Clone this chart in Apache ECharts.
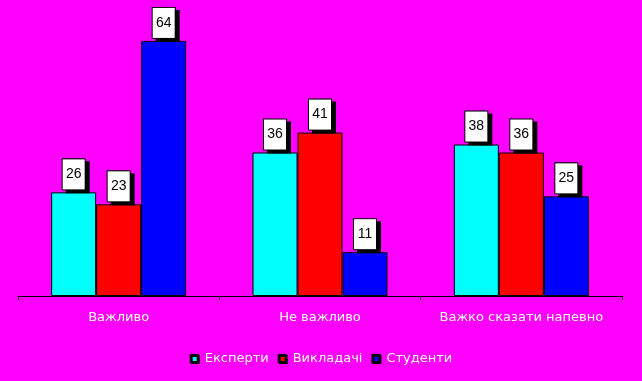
<!DOCTYPE html>
<html><head><meta charset="utf-8">
<script src="https://cdn.jsdelivr.net/npm/echarts@6/dist/echarts.min.js"></script>
<style>html,body{margin:0;padding:0;background:#FF00FF}#c{width:642px;height:381px}</style>
</head><body><div id="c"></div>
<script>
const categories = ["Важливо", "Не важливо", "Важко сказати напевно"];
const seriesNames = ["Експерти", "Викладачі", "Студенти"];
const experts = [26, 36, 38];
const teachers = [23, 41, 36];
const students = [64, 11, 25];
const colors = ["#00FFFF", "#FF0000", "#0000FF"];

const chart = echarts.init(document.getElementById('c'), null, {renderer: 'canvas'});
const txtFont = 'DejaVu Sans';
const labelStyle = {
  show: true, position: 'top', distance: 3,
  color: '#000', fontFamily: 'Liberation Sans, Arial', fontSize: 14,
  backgroundColor: '#fff', borderColor: '#000', borderWidth: 1,
  width: 22, height: 30, lineHeight: 30, align: 'center', padding: 0,
  shadowColor: '#000', shadowOffsetX: 4, shadowOffsetY: 3, shadowBlur: 0
};
const data = [experts, teachers, students];
chart.setOption({
  backgroundColor: '#FF00FF',
  animation: false,
  grid: {left: 18, right: 20, top: 17, bottom: 85},
  legend: {
    top: 347, left: 'center', itemWidth: 7, itemHeight: 7, itemGap: 9,
    icon: 'rect',
    textStyle: {color: '#fff', fontFamily: txtFont, fontSize: 13, padding: [0, 0, 0, 2],
      textShadowColor: '#000', textShadowOffsetX: 1, textShadowOffsetY: 1, textShadowBlur: 0},
    data: seriesNames.map((n, i) => ({name: n, itemStyle: {color: colors[i], shadowColor: '#000', shadowOffsetX: 1, shadowOffsetY: 1, shadowBlur: 0}}))
  },
  xAxis: {
    type: 'category', data: categories,
    axisLine: {lineStyle: {color: '#000', width: 1}},
    axisTick: {show: true, interval: 0, length: 4, lineStyle: {color: '#000'}},
    axisLabel: {interval: 0, hideOverlap: false, color: '#fff', fontFamily: txtFont, fontSize: 13, margin: 15,
      textShadowColor: '#000', textShadowOffsetX: 1, textShadowOffsetY: 1, textShadowBlur: 0}
  },
  yAxis: {type: 'value', min: 0, max: 70, show: false, splitLine: {show: false}},
  series: seriesNames.map((n, i) => ({
    name: n, type: 'bar', data: data[i], barWidth: 45, barGap: '0%',
    itemStyle: {color: colors[i], borderColor: '#000', borderWidth: 1},
    label: labelStyle
  }))
});
</script></body></html>
